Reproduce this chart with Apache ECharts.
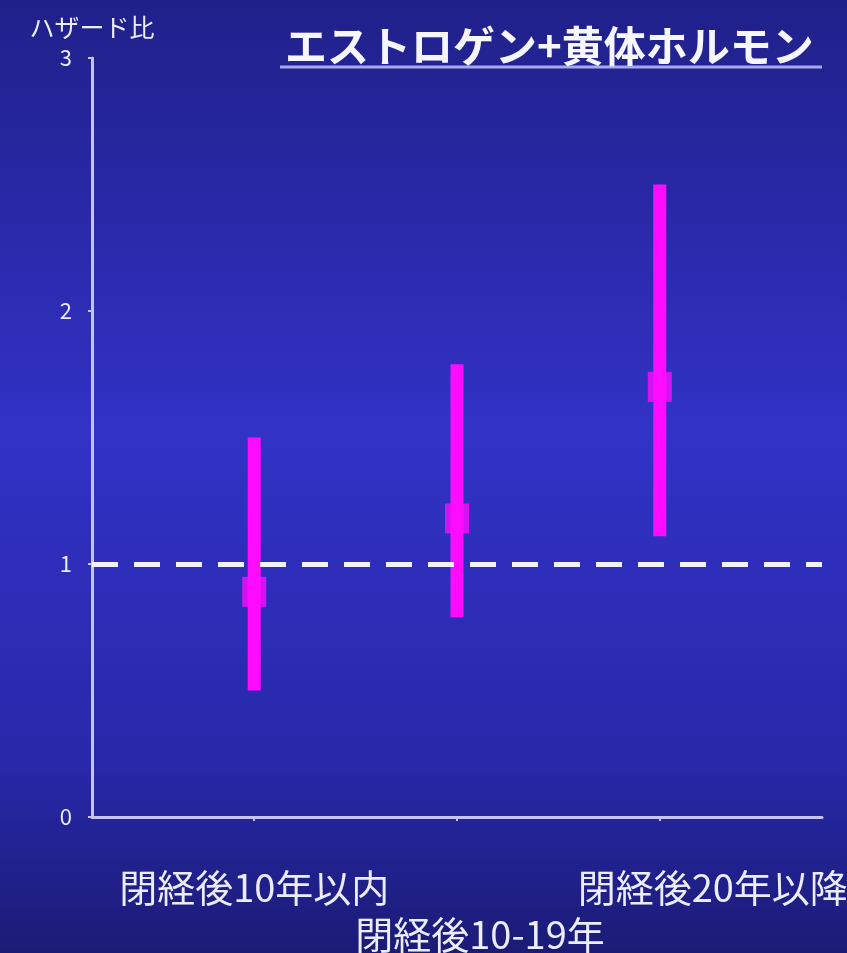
<!DOCTYPE html>
<html>
<head>
<meta charset="utf-8">
<script src="https://cdn.jsdelivr.net/npm/echarts@6/dist/echarts.min.js"></script>
<style>
html,body{margin:0;padding:0;background:#202088;}
#chart{width:847px;height:953px;}
</style>
</head>
<body>
<div id="chart"></div>
<script>
const titleText = 'エストロゲン+黄体ホルモン';
const yAxisName = 'ハザード比';
const categories = ['閉経後10年以内', '閉経後10-19年', '閉経後20年以降'];
const hazardRatio = [0.89, 1.18, 1.70];
const ciLow = [0.50, 0.79, 1.11];
const ciHigh = [1.50, 1.79, 2.50];
const yTicks = [0, 1, 2, 3];
const referenceValue = 1;

const catIndex = categories.map((_, i) => i);
const upperRow = catIndex.filter(i => i % 2 === 0);
const lowerRow = catIndex.filter(i => i % 2 === 1);
const richKeys = ['a', 'b', 'c'];

const chart = echarts.init(document.getElementById('chart'));
const font = '"Noto Sans CJK JP", "Noto Sans", sans-serif';
const textColor = '#ececff';
const axisColor = '#c4c4f2';

const richStyles = {
  a: { fontSize: 38, color: textColor, fontFamily: font, lineHeight: 40, padding: [0, 0, 0, 0] },
  b: { fontSize: 38, color: textColor, fontFamily: font, lineHeight: 40, padding: [0, 0, 0, 46] },
  c: { fontSize: 38, color: textColor, fontFamily: font, lineHeight: 40, padding: [0, 0, 0, 106] }
};
const labelFormatter = v => '{' + richKeys[Math.round(v)] + '|' + categories[Math.round(v)] + '}';

chart.setOption({
  backgroundColor: {
    type: 'linear', x: 0, y: 0, x2: 0, y2: 1,
    colorStops: [
      { offset: 0, color: '#20208a' },
      { offset: 0.45, color: '#3232c6' },
      { offset: 0.8, color: '#2828aa' },
      { offset: 1, color: '#1b1b76' }
    ]
  },
  animation: false,
  title: {
    text: titleText,
    left: 280,
    top: 20,
    textStyle: { color: '#f6f6ff', fontSize: 42, fontWeight: 'bold', fontFamily: font }
  },
  graphic: [{
    type: 'line',
    shape: { x1: 280, y1: 67, x2: 822, y2: 67 },
    style: { stroke: '#a8a8f0', lineWidth: 3 }
  }],
  grid: { left: 92, right: 25, top: 58, bottom: 136, containLabel: false, outerBoundsMode: 'none' },
  xAxis: [
    {
      type: 'value',
      min: -0.8,
      max: 2.8,
      splitLine: { show: false },
      axisLine: { show: true, onZero: false, lineStyle: { color: axisColor, width: 3 } },
      axisTick: { show: true, customValues: catIndex, length: 4, lineStyle: { color: axisColor, width: 2 } },
      axisLabel: {
        customValues: upperRow,
        showMinLabel: true,
        showMaxLabel: true,
        hideOverlap: false,
        margin: 51,
        color: textColor,
        fontFamily: font,
        fontSize: 38,
        formatter: labelFormatter,
        rich: richStyles
      }
    },
    {
      type: 'value',
      min: -0.8,
      max: 2.8,
      position: 'bottom',
      offset: 47,
      splitLine: { show: false },
      axisLine: { show: false, onZero: false },
      axisTick: { show: false },
      axisLabel: {
        customValues: lowerRow,
        showMinLabel: true,
        showMaxLabel: true,
        hideOverlap: false,
        margin: 51,
        color: textColor,
        fontFamily: font,
        fontSize: 38,
        formatter: labelFormatter,
        rich: richStyles
      }
    }
  ],
  yAxis: {
    type: 'value',
    min: yTicks[0],
    max: yTicks[yTicks.length - 1],
    interval: 1,
    name: yAxisName,
    nameLocation: 'end',
    nameGap: 31,
    nameTextStyle: { color: textColor, fontSize: 25, fontFamily: font, align: 'center', verticalAlign: 'middle' },
    splitLine: { show: false },
    axisLine: { show: true, onZero: false, lineStyle: { color: axisColor, width: 3 } },
    axisTick: { show: true, length: 4, lineStyle: { color: axisColor, width: 2 } },
    axisLabel: { color: textColor, fontSize: 22, fontFamily: font, margin: 20 }
  },
  series: [
    {
      type: 'line',
      data: [],
      z: 1,
      markLine: {
        silent: true,
        symbol: 'none',
        label: { show: false },
        lineStyle: { color: '#f2f2ff', width: 5, type: [26, 16] },
        data: [{ yAxis: referenceValue }]
      }
    },
    {
      type: 'custom',
      z: 3,
      data: catIndex.map(i => [i, ciLow[i], ciHigh[i]]),
      renderItem: function (params, api) {
        const lo = api.coord([api.value(0), api.value(1)]);
        const hi = api.coord([api.value(0), api.value(2)]);
        return {
          type: 'line',
          shape: { x1: lo[0], y1: lo[1], x2: hi[0], y2: hi[1] },
          style: { stroke: '#ff0cff', lineWidth: 13, lineCap: 'butt' }
        };
      }
    },
    {
      type: 'scatter',
      z: 4,
      symbol: 'rect',
      symbolSize: [24, 30],
      itemStyle: { color: '#ff0cff' },
      data: catIndex.map(i => [i, hazardRatio[i]])
    }
  ]
});
</script>
</body>
</html>
